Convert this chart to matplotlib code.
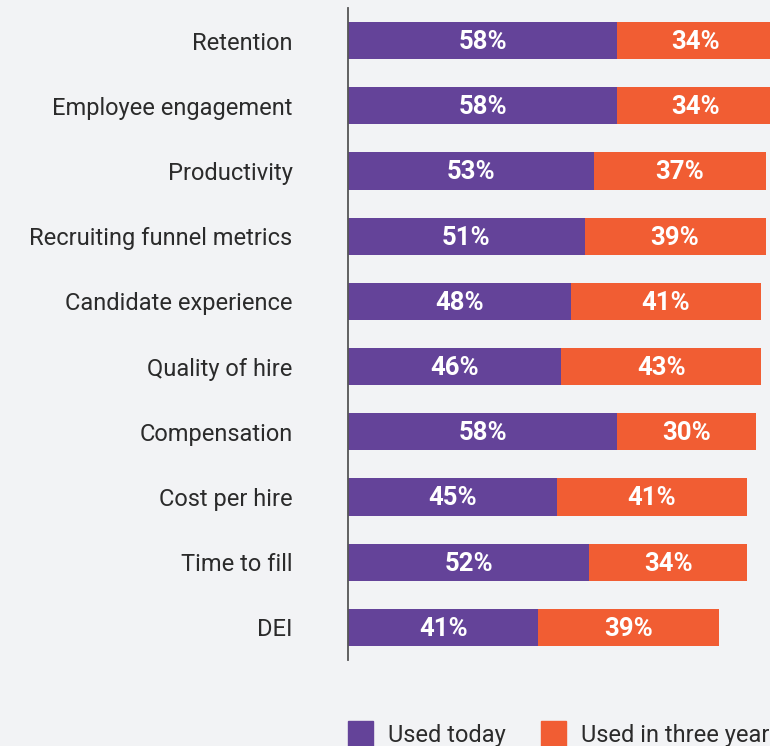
import matplotlib.pyplot as plt
from matplotlib.patches import Rectangle

categories = ["Retention", "Employee engagement", "Productivity",
              "Recruiting funnel metrics", "Candidate experience",
              "Quality of hire", "Compensation", "Cost per hire",
              "Time to fill", "DEI"]
used_today = [58, 58, 53, 51, 48, 46, 58, 45, 52, 41]
used_three_years = [34, 34, 37, 39, 41, 43, 30, 41, 34, 39]
series_labels = ["Used today", "Used in three years"]

PURPLE = "#644399"
ORANGE = "#f15d33"
BG = "#f2f3f5"
FONT = "Roboto"

W, H = 770, 746
fig = plt.figure(figsize=(W / 100, H / 100), dpi=100, facecolor=BG)
ax = fig.add_axes([348 / W, (H - 660) / H, (W - 348) / W, 652 / H])
ax.set_facecolor(BG)

y = list(range(len(categories)))
ax.barh(y, used_today, height=0.57, color=PURPLE)
ax.barh(y, used_three_years, left=used_today, height=0.57, color=ORANGE)

for i in y:
    ax.text(used_today[i] / 2, i + 0.02, f"{used_today[i]}%", ha="center", va="center",
            color="white", fontsize=18.5, fontweight="bold", family=FONT)
    ax.text(used_today[i] + used_three_years[i] / 2, i + 0.02, f"{used_three_years[i]}%",
            ha="center", va="center", color="white", fontsize=18.5,
            fontweight="bold", family=FONT)

ax.set_xlim(0, (W - 348) / 4.64)
ax.set_ylim(len(categories) - 0.5, -0.5)
ax.set_yticks(y)
ax.set_yticklabels(categories, fontsize=17, color="#2b2b2b", family=FONT)
ax.tick_params(axis="y", length=0, pad=40)
ax.set_xticks([])
for s in ["top", "right", "bottom"]:
    ax.spines[s].set_visible(False)
ax.spines["left"].set_color("#555555")
ax.spines["left"].set_linewidth(1.3)

# legend at the bottom
for x0, color, label, tx in [(348, PURPLE, series_labels[0], 388),
                             (541, ORANGE, series_labels[1], 581)]:
    fig.patches.append(Rectangle((x0 / W, -5 / H), 25 / W, 30 / H,
                                 transform=fig.transFigure, color=color))
    fig.text(tx / W, 4 / H, label, fontsize=17, color="#2b2b2b",
             family=FONT, va="baseline")

fig.savefig("out.png", dpi=100, facecolor=BG)
